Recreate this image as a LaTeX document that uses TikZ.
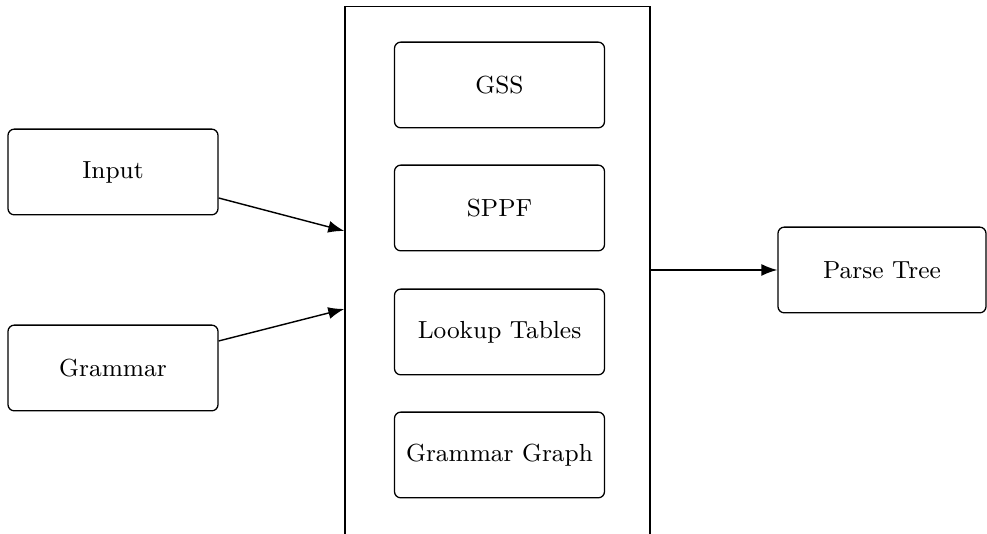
\documentclass[tikz,border=0pt]{standalone}
\usetikzlibrary{arrows.meta}
\begin{document}
\begin{tikzpicture}[x=0.35pt,y=-0.35pt,
  comp/.style={draw, line width=0.45pt, rounded corners=2.2pt, minimum width=73.5pt, minimum height=30pt, inner sep=0pt, font=\fontsize{8.65}{11}\selectfont},
  conn/.style={-{Latex[length=5.6pt,width=4.2pt]}, line width=0.5pt}]
\useasboundingbox (0,0) rectangle (987,534);
\node[draw, line width=0.5pt, minimum width=106.75pt, minimum height=200pt, inner sep=0pt, anchor=north] (core) at (497.5,6) {};
\node[comp] (input) at (113,172) {Input};
\node[comp] (grammar) at (113,368) {Grammar};
\node[comp] (gss) at (499.5,85) {GSS};
\node[comp] (sppf) at (499.5,208) {SPPF};
\node[comp] (lookup) at (499.5,332) {Lookup Tables};
\node[comp] (ggraph) at (499.5,455) {Grammar Graph};
\node[comp, minimum width=72.8pt] (tree) at (882,270) {Parse Tree};
\draw[conn] (input.east |- 0,198) -- (core.west |- 0,231);
\draw[conn] (grammar.east |- 0,341) -- (core.west |- 0,309);
\draw[conn] (core.east |- tree.west) -- (tree.west);
\end{tikzpicture}
\end{document}
